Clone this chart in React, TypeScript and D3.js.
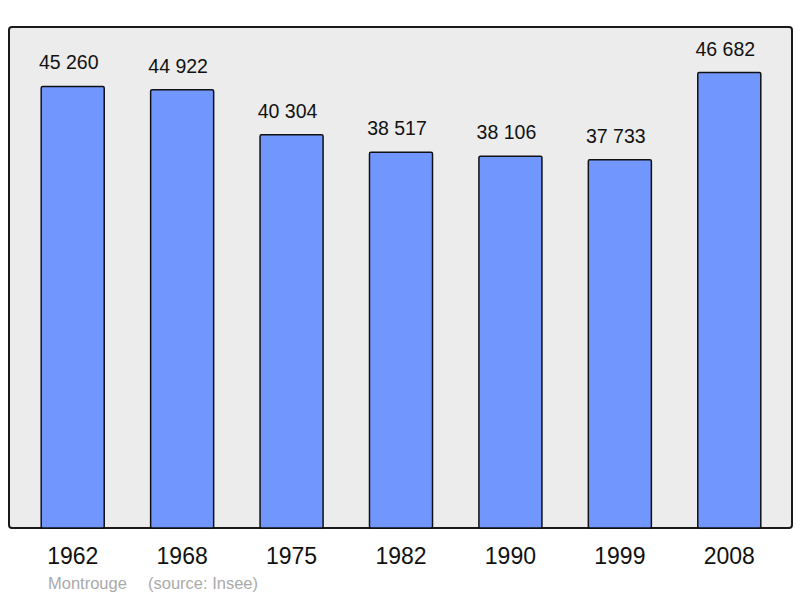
import * as d3 from "d3"

const years = ["1962", "1968", "1975", "1982", "1990", "1999", "2008"]
const population = [45260, 44922, 40304, 38517, 38106, 37733, 46682]
const commune = "Montrouge"
const source = "(source: Insee)"

const width = 800
const height = 598
const frame = {left: 9, top: 27, right: 792, bottom: 528}

const formatValue = (v: number): string =>
  d3.format(",")(v).replace(/,/g, " ")

const App = (): JSX.Element => {
  const xScale = d3
    .scaleBand<string>()
    .domain(years)
    .range([18, 784])
    .paddingInner(0.424)
    .paddingOuter(0.212)

  const yScale = d3
    .scaleLinear()
    .domain([0, (d3.max(population) ?? 0) * 1.1])
    .range([frame.bottom, frame.top])

  return (
    <svg
      width={width}
      height={height}
      style={{position: "absolute", left: 0, top: 0}}
      fontFamily="'Liberation Sans', Arial, sans-serif"
    >
      <rect x={0} y={0} width={width} height={height} fill="#ffffff" />
      <rect
        x={frame.left}
        y={frame.top}
        width={frame.right - frame.left}
        height={frame.bottom - frame.top}
        rx={3}
        fill="#ececec"
        stroke="#1a1a1a"
        strokeWidth={2}
      />
      {years.map((year, i) => {
        const x = xScale(year) ?? 0
        const y = yScale(population[i])
        const mid = x + xScale.bandwidth() / 2
        return (
          <g key={year}>
            <rect
              x={x}
              y={y}
              width={xScale.bandwidth()}
              height={frame.bottom - y}
              rx={1.5}
              fill="#7197ff"
              stroke="#111"
              strokeWidth={1.5}
            />
            {/* value labels sit a little left of the bar centre */}
            <text
              x={mid - 4}
              y={y - 17}
              textAnchor="middle"
              fontSize={19.5}
              fill="#111"
            >
              {formatValue(population[i])}
            </text>
            <text x={mid} y={564} textAnchor="middle" fontSize={23} fill="#111">
              {year}
            </text>
          </g>
        )
      })}
      <text x={48} y={589} fontSize={16.5} fill="#aaaaaa">
        {commune}
      </text>
      <text x={148} y={589} fontSize={16.5} fill="#aaaaaa">
        {source}
      </text>
    </svg>
  )
}

export default App
